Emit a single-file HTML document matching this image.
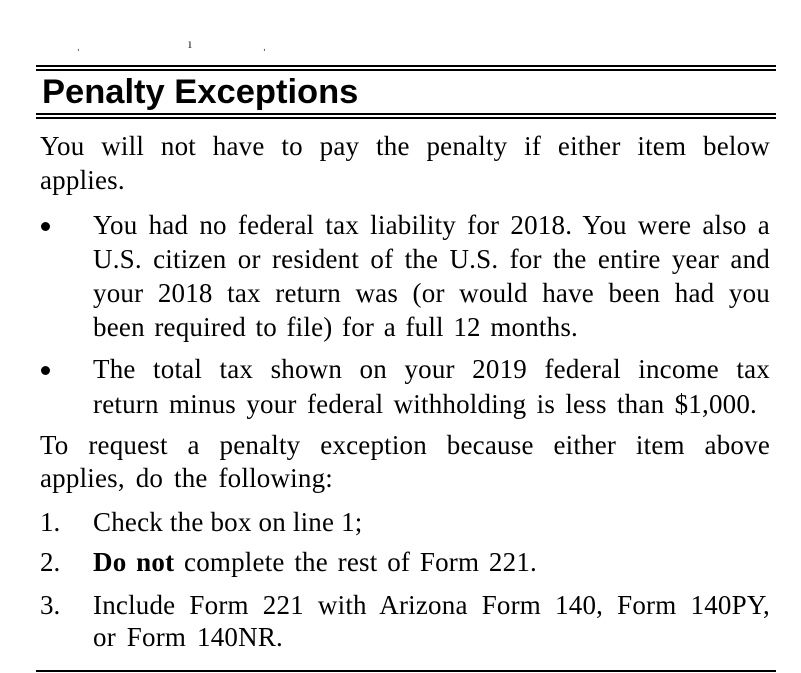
<!DOCTYPE html>
<html><head><style>
body{margin:0;width:801px;height:673px;background:#fff;position:relative;overflow:hidden;font-family:"Liberation Serif",serif;color:#000}
.r{position:absolute;left:36px;width:740px;height:2px;background:#000}
.l{position:absolute;font-size:27px;line-height:34px;height:34px;white-space:nowrap;text-align:justify;text-align-last:justify;letter-spacing:0.2px}
.h{position:absolute;left:42px;top:71px;font-family:"Liberation Sans",sans-serif;font-weight:bold;font-size:34.5px;line-height:42px}
.b{position:absolute;width:9px;height:9px;border-radius:50%;background:#000;left:41px}
.n{position:absolute;left:40px;font-size:27px;line-height:34px}
.s{position:absolute;font-size:14px;line-height:14px;color:#333}
</style></head><body>
<div class="s" style="left:76px;top:38px">ˌ</div>
<div class="s" style="left:188px;top:38px">ı</div>
<div class="s" style="left:262px;top:38px">ˌ</div>
<div class="r" style="top:65px"></div><div class="r" style="top:69px"></div>
<div class="h">Penalty Exceptions</div>
<div class="r" style="top:113px"></div><div class="r" style="top:117px"></div>
<div class="l" style="left:40px;width:730px;top:129px">You will not have to pay the penalty if either item below</div>
<div class="l" style="left:40px;width:88px;top:163px">applies.</div>
<div class="b" style="top:222px"></div>
<div class="l" style="left:93px;width:677px;top:208px">You had no federal tax liability for 2018. You were also a</div>
<div class="l" style="left:93px;width:677px;top:242px">U.S. citizen or resident of the U.S. for the entire year and</div>
<div class="l" style="left:93px;width:677px;top:276px">your 2018 tax return was (or would have been had you</div>
<div class="l" style="left:93px;width:485px;top:310px">been required to file) for a full 12 months.</div>
<div class="b" style="top:366px"></div>
<div class="l" style="left:93px;width:677px;top:352px">The total tax shown on your 2019 federal income tax</div>
<div class="l" style="left:93px;width:664px;top:387px">return minus your federal withholding is less than $1,000.</div>
<div class="l" style="left:40px;width:730px;top:428px">To request a penalty exception because either item above</div>
<div class="l" style="left:40px;width:293px;top:461px">applies, do the following:</div>
<div class="n" style="top:505px">1.</div>
<div class="l" style="left:93px;width:265px;top:505px">Check the box on line 1;</div>
<div class="n" style="top:545px">2.</div>
<div class="l" style="left:93px;width:444px;top:545px"><b>Do not</b> complete the rest of Form 221.</div>
<div class="n" style="top:588px">3.</div>
<div class="l" style="left:93px;width:677px;top:588px">Include Form 221 with Arizona Form 140, Form 140PY,</div>
<div class="l" style="left:93px;width:190px;top:620px">or Form 140NR.</div>
<div class="r" style="top:670px"></div>
</body></html>
